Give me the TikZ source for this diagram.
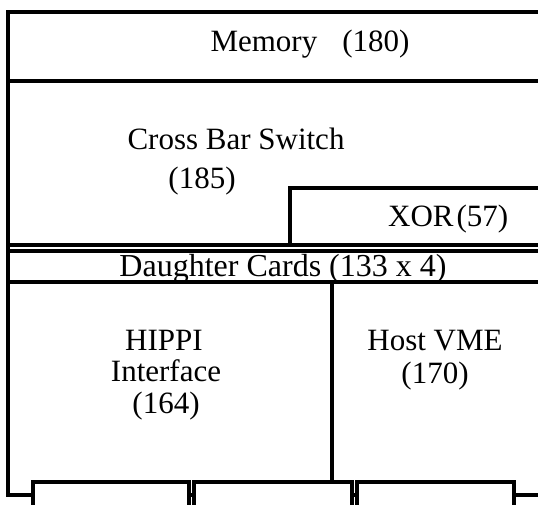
\documentclass[tikz,border=0pt]{standalone}
\usepackage{fontspec}
\setmainfont{Liberation Serif}
\tikzset{
  wall/.style={line width=3.2pt, line cap=rect},
  lbl/.style={anchor=base, inner sep=0pt, font=\fontsize{31}{34}\selectfont},
  conn/.style={wall, fill=white}
}
\begin{document}
\begin{tikzpicture}[x=1pt,y=-1pt]
\useasboundingbox (0,0) rectangle (538,504);
\clip (0,0) rectangle (538,504);
% corner coordinates
\coordinate (tl) at (8,12);
\coordinate (tr) at (545,12);
\coordinate (bl) at (8,495);
\coordinate (br) at (545,495);
% outer frame (right side lies beyond the page)
\draw[wall] (tr) -- (tl) -- (bl) -- (br);
% horizontal divisions
\draw[wall] (8,81) -- (545,81);
\draw[wall] (8,245) -- (545,245);
\draw[wall] (8,251) -- (545,251);
\draw[wall] (8,282) -- (545,282);
% XOR box
\draw[wall] (290,245) -- (290,188) -- (545,188);
% HIPPI / Host VME divider
\draw[wall] (332,282) -- (332,482);
% edge connectors
\draw[conn] (33,510) -- (33,482) -- (189,482) -- (189,510);
\draw[conn] (194,510) -- (194,482) -- (352,482) -- (352,510);
\draw[conn] (357,510) -- (357,482) -- (514,482) -- (514,510);
% labels
\node[lbl] (mem) at (310,51) {Memory\hspace{25pt}(180)};
\node[lbl] (cbs) at (236,149) {Cross Bar Switch};
\node[lbl] (cbsn) at (202,188) {(185)};
\node[lbl, anchor=base west] (xor) at (388,226) {XOR\kern3pt(57)};
\node[lbl] (dc) at (283,276) {\fontsize{32}{34}\selectfont Daughter Cards (133 x 4)};
\node[lbl] (hip1) at (164,350) {HIPPI};
\node[lbl] (hip2) at (166,381) {Interface};
\node[lbl] (hip3) at (166,413) {(164)};
\node[lbl] (vme1) at (435,350) {Host VME};
\node[lbl] (vme2) at (435,383) {(170)};
\end{tikzpicture}
\end{document}
